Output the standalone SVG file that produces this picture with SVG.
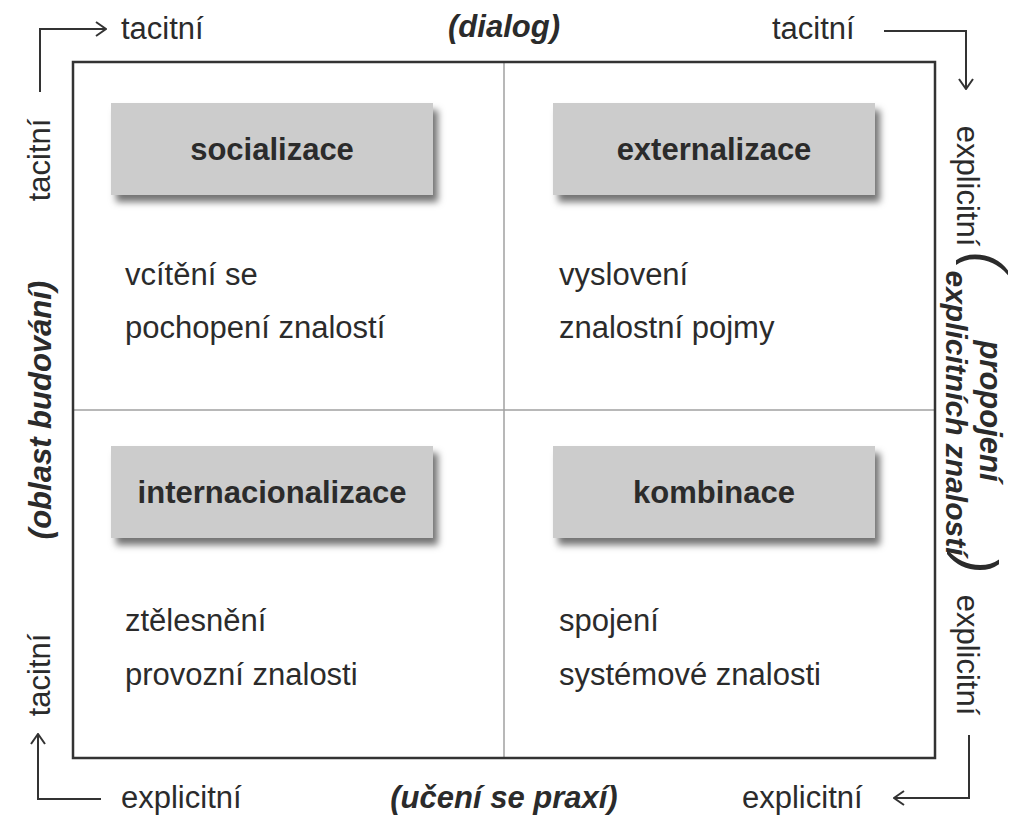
<svg xmlns="http://www.w3.org/2000/svg" width="1024" height="835" viewBox="0 0 1024 835">
<style>
text{font-family:"Liberation Sans",Arial,sans-serif;fill:#2b2b2b;font-size:31px}
.b{font-weight:bold}
.bi{font-weight:bold;font-style:italic}
.br{font-style:italic;font-size:56px;text-anchor:middle}
.box{fill:#cccccc;filter:url(#sh)}
.lbl{font-weight:bold;text-anchor:middle}
.mid{text-anchor:middle}
.conn{fill:none;stroke:#333;stroke-width:2}
</style>
<defs>
<filter id="sh" x="-10%" y="-20%" width="125%" height="150%">
<feDropShadow dx="5" dy="7" stdDeviation="3.5" flood-color="#000" flood-opacity="0.55"/>
</filter>
<marker id="ar" viewBox="0 0 12 16" refX="11" refY="8" markerWidth="12" markerHeight="16" markerUnits="userSpaceOnUse" orient="auto">
<path d="M1,1 L11,8 L1,15" fill="none" stroke="#333" stroke-width="2"/>
</marker>
</defs>
<rect width="1024" height="835" fill="#fff"/>

<g id="frame">
<line x1="504" y1="62" x2="504" y2="758" stroke="#a0a0a0" stroke-width="1.5"/>
<line x1="73" y1="410" x2="935" y2="410" stroke="#a0a0a0" stroke-width="1.5"/>
<rect x="73" y="62" width="862" height="696" fill="none" stroke="#333" stroke-width="2.5"/>
</g>

<g id="socializace">
<rect class="box" x="111" y="103" width="322" height="92"/>
<text class="lbl" x="272" y="160">socializace</text>
<text x="125" y="285">vcítění se</text>
<text x="125" y="338">pochopení znalostí</text>
</g>

<g id="externalizace">
<rect class="box" x="553" y="103" width="322" height="92"/>
<text class="lbl" x="714" y="160">externalizace</text>
<text x="559" y="285">vyslovení</text>
<text x="559" y="338">znalostní pojmy</text>
</g>

<g id="internacionalizace">
<rect class="box" x="111" y="446" width="322" height="92"/>
<text class="lbl" x="272" y="503">internacionalizace</text>
<text x="125" y="631">ztělesnění</text>
<text x="125" y="685">provozní znalosti</text>
</g>

<g id="kombinace">
<rect class="box" x="553" y="446" width="322" height="92"/>
<text class="lbl" x="714" y="503">kombinace</text>
<text x="559" y="631">spojení</text>
<text x="559" y="685">systémové znalosti</text>
</g>

<g id="connectors">
<polyline class="conn" points="40,92 40,29 106,29" marker-end="url(#ar)"/>
<polyline class="conn" points="884,31 966,31 966,89" marker-end="url(#ar)"/>
<polyline class="conn" points="969,735 969,798 894,798" marker-end="url(#ar)"/>
<polyline class="conn" points="101,799 38,799 38,734" marker-end="url(#ar)"/>
</g>

<g id="axis-labels">
<text x="121" y="39">tacitní</text>
<text class="bi mid" x="504" y="37">(dialog)</text>
<text x="772" y="39">tacitní</text>
<text x="121" y="808">explicitní</text>
<text class="bi mid" x="504" y="808">(učení se praxí)</text>
<text x="742" y="808">explicitní</text>
<text class="mid" transform="translate(50,160) rotate(-90)">tacitní</text>
<text class="mid" transform="translate(50,675) rotate(-90)">tacitní</text>
<text class="bi mid" transform="translate(51,410) rotate(-90)">(oblast budování)</text>
<text class="mid" transform="translate(957,186) rotate(90)">explicitní</text>
<text class="mid" transform="translate(957,655) rotate(90)">explicitní</text>
<text class="bi mid" transform="translate(980,411) rotate(90)">propojení</text>
<text class="bi mid" style="font-size:30px" transform="translate(946,413) rotate(90)">explicitních znalostí</text>
<text class="br" transform="translate(968,261) rotate(90)">(</text>
<text class="br" transform="translate(959,564) rotate(90)">)</text>
</g>
</svg>
